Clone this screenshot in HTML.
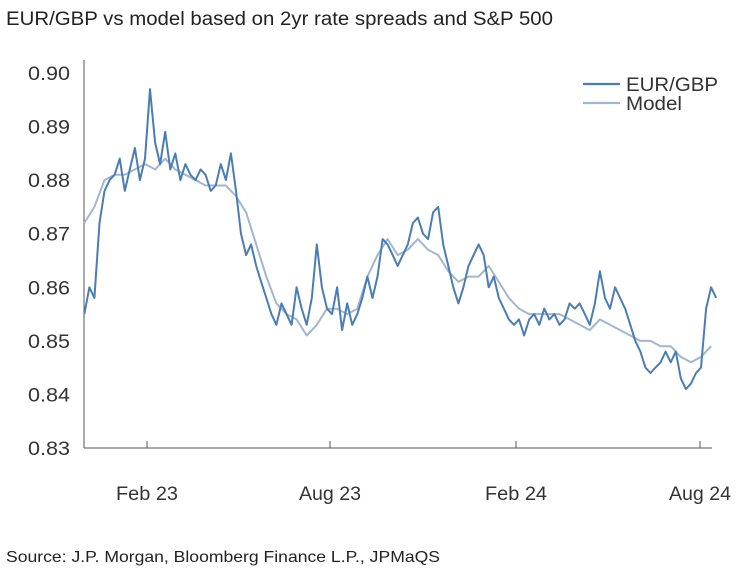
<!DOCTYPE html>
<html><head><meta charset="utf-8"><style>
body{margin:0;background:#fff;font-family:"Liberation Sans Narrow","Liberation Sans",Arial,sans-serif;}
#wrap{position:relative;width:740px;height:581px;overflow:hidden;}
</style></head><body>
<div id="wrap">
<svg id="chart" width="740" height="581">
<text x="6" y="25" font-size="19" fill="#222" textLength="547" lengthAdjust="spacingAndGlyphs">EUR/GBP vs model based on 2yr rate spreads and S&amp;P 500</text>
<text x="6" y="562" font-size="16" fill="#222" textLength="434" lengthAdjust="spacingAndGlyphs">Source: J.P. Morgan, Bloomberg Finance L.P., JPMaQS</text>
<g id="axes"></g><g id="series"></g>
<g>
<line x1="583" y1="84" x2="620" y2="84" stroke="#4a7db4" stroke-width="2.2"/>
<text x="626" y="91" font-size="19" fill="#333" textLength="92" lengthAdjust="spacingAndGlyphs">EUR/GBP</text>
<line x1="583" y1="103" x2="620" y2="103" stroke="#a3b6cf" stroke-width="2.2"/>
<text x="626" y="110" font-size="19" fill="#333" textLength="56" lengthAdjust="spacingAndGlyphs">Model</text>
</g>
</svg></div>
<script>
const yTicks=[0.83,0.84,0.85,0.86,0.87,0.88,0.89,0.90];
const xTickLabels=["Feb 23","Aug 23","Feb 24","Aug 24"];
const xTickDates=["2023-02-01","2023-08-01","2024-02-01","2024-08-01"];
const eurStart="2022-12-01", eurStepDays=5;
const eurgbp=[0.855,0.860,0.858,0.872,0.878,0.880,0.881,0.884,0.878,0.882,0.886,0.880,0.884,0.897,0.887,0.883,0.889,0.882,0.885,0.880,0.883,0.881,0.880,0.882,0.881,0.878,0.879,0.883,0.880,0.885,0.878,0.870,0.866,0.868,0.864,0.861,0.858,0.855,0.853,0.857,0.855,0.853,0.860,0.856,0.853,0.858,0.868,0.860,0.856,0.855,0.860,0.852,0.857,0.853,0.855,0.858,0.862,0.858,0.862,0.869,0.868,0.866,0.864,0.866,0.868,0.872,0.873,0.870,0.869,0.874,0.875,0.868,0.864,0.860,0.857,0.860,0.864,0.866,0.868,0.866,0.860,0.862,0.858,0.856,0.854,0.853,0.854,0.851,0.854,0.855,0.853,0.856,0.854,0.855,0.853,0.854,0.857,0.856,0.857,0.855,0.853,0.857,0.863,0.858,0.856,0.860,0.858,0.856,0.853,0.850,0.848,0.845,0.844,0.845,0.846,0.848,0.846,0.848,0.843,0.841,0.842,0.844,0.845,0.856,0.860,0.858];
const modelStart="2022-12-01", modelStepDays=10;
const model=[0.872,0.875,0.880,0.881,0.881,0.882,0.883,0.882,0.884,0.882,0.881,0.880,0.879,0.879,0.879,0.877,0.874,0.868,0.862,0.857,0.855,0.854,0.851,0.853,0.856,0.856,0.855,0.856,0.862,0.866,0.869,0.866,0.867,0.869,0.867,0.866,0.863,0.861,0.862,0.862,0.864,0.861,0.858,0.856,0.855,0.855,0.855,0.855,0.854,0.853,0.852,0.854,0.853,0.852,0.851,0.850,0.850,0.849,0.849,0.847,0.846,0.847,0.849];
const NS="http://www.w3.org/2000/svg";
const DAY=86400000, ref=Date.parse("2023-02-01");
function xs(t){return 147+(t-ref)/DAY*1.011;}
function ys(v){return 448-(v-0.83)/0.07*375;}
function mk(tag,attrs,parent){const e=document.createElementNS(NS,tag);for(const k in attrs)e.setAttribute(k,attrs[k]);parent.appendChild(e);return e;}
const ax=document.getElementById('axes'),sr=document.getElementById('series');
let l=mk('line',{x1:84,y1:60,x2:84,y2:448,stroke:'#555','stroke-width':1},ax);


l=mk('line',{x1:84,y1:448,x2:712,y2:448,stroke:'#555','stroke-width':1},ax);


yTicks.forEach(v=>{
 const t=mk('text',{x:70,y:ys(v)+7,'font-size':19,'text-anchor':'end',fill:'#333',textLength:42,lengthAdjust:'spacingAndGlyphs'},ax);
 t.textContent=v.toFixed(2);
 
 
});
xTickDates.forEach((d,i)=>{
 const x=xs(Date.parse(d));
 const tk=mk('line',{x1:x,y1:441,x2:x,y2:448,stroke:'#555'},ax);
 
 
 const t=mk('text',{x:x,y:500,'font-size':19,'text-anchor':'middle',fill:'#333',textLength:62,lengthAdjust:'spacingAndGlyphs'},ax);
 t.textContent=xTickLabels[i];
 
 
});
function path(vals,start,step,color,name){
 const s=Date.parse(start);
 const d=vals.map((v,i)=>(i?'L':'M')+xs(s+i*step*DAY).toFixed(1)+','+ys(v).toFixed(1)).join(' ');
 const p=mk('path',{d:d,fill:'none',stroke:color,'stroke-width':2,'stroke-linejoin':'round'},sr);
 
 
}
path(model,modelStart,modelStepDays,'#a3b6cf','model-line');
path(eurgbp,eurStart,eurStepDays,'#4a7db4','eurgbp-line');
</script>
</body></html>
